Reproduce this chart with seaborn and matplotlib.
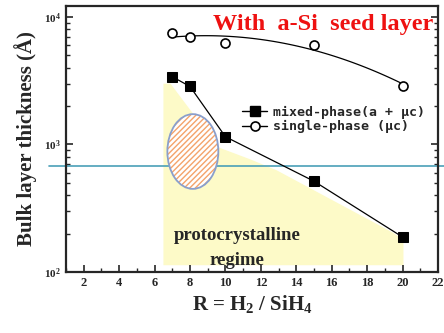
import numpy as np
import pandas as pd
import matplotlib
matplotlib.use("Agg")
import matplotlib.pyplot as plt
import seaborn as sns
from matplotlib.patches import Ellipse, Polygon
from matplotlib.lines import Line2D
from matplotlib.ticker import MultipleLocator, LogLocator, NullFormatter

# ---- data ----
ratio = [7, 8, 10, 15, 20]
mixed_phase = [3400, 2850, 1150, 515, 188]
single_phase = [7500, 6950, 6250, 6050, 2900]
threshold = 676
region_x = [6.5, 6.9, 9.6, 11.4, 12.9, 19.5, 20.05, 20.05, 6.5]
region_y = [3000, 3000, 950, 765, 627, 202, 178, 113, 113]
xticks = [2, 4, 6, 8, 10, 12, 14, 16, 18, 20, 22]
yticks = [100, 1000, 10000]
ytick_labels = ["10$^2$", "10$^3$", "10$^4$"]

sns.set_style("ticks")
plt.rcParams["font.family"] = ["Liberation Serif", "DejaVu Serif"]
plt.rcParams["font.weight"] = "bold"
plt.rcParams["mathtext.default"] = "regular"

fig = plt.figure(figsize=(4.44, 3.33), dpi=100)
ax = fig.add_axes([66/444, 1 - 272/333, (438-66)/444, (272-6)/333])
ax.set_yscale("log")
ax.set_xlim(1, 22)
ax.set_ylim(100, 10**4.086)

# yellow protocrystalline region
ax.add_patch(Polygon(list(zip(region_x, region_y)), closed=True,
                     facecolor="#fdfac8", edgecolor="none", zorder=0))

# threshold line
ax.axhline(threshold, xmin=-0.045, xmax=1.03, color="#4a9fb8", lw=1.2,
           clip_on=False, zorder=1)

# ellipse (hatched)
ell_kw = dict(xy=(0.341, 0.453), width=0.137, height=0.281, transform=ax.transAxes)
ax.add_patch(Ellipse(**ell_kw, facecolor="white", edgecolor="#f4a36a",
                     hatch="//////", lw=0, zorder=2))
ax.add_patch(Ellipse(**ell_kw, facecolor="none", edgecolor="#8a9fcc",
                     lw=1.3, zorder=3))

df = pd.DataFrame({"R": ratio, "mixed": mixed_phase, "single": single_phase})

# mixed-phase
sns.lineplot(data=df, x="R", y="mixed", ax=ax, color="black", lw=0.9,
             marker="s", markersize=6.5, markeredgecolor="black",
             markerfacecolor="black", zorder=4)
# single-phase: smooth curve through points + open circles
coef = np.polyfit(df["R"], np.log10(df["single"]), 2)
xs = np.linspace(min(ratio), max(ratio), 100)
ax.plot(xs, 10**np.polyval(coef, xs), color="black", lw=0.9, zorder=4)
sns.lineplot(data=df, x="R", y="single", ax=ax, color="black", lw=0,
             marker="o", markersize=6.5, markeredgecolor="black",
             markerfacecolor="white", markeredgewidth=1.2, zorder=5)

ax.set_xticks(xticks)
ax.xaxis.set_minor_locator(MultipleLocator(1))
ax.set_yticks(yticks)
ax.set_yticklabels(ytick_labels)
ax.yaxis.set_minor_locator(LogLocator(base=10, subs=np.arange(2, 10)))
ax.yaxis.set_minor_formatter(NullFormatter())
ax.tick_params(axis="both", which="major", direction="in", length=5, width=1.2,
               labelsize=9)
ax.tick_params(axis="both", which="minor", direction="in", length=3, width=1.0)
ax.tick_params(axis="y", which="both", right=True)
ax.tick_params(axis="y", which="major", labelsize=8)
for s in ax.spines.values():
    s.set_linewidth(1.6)
    s.set_visible(True)
for lab in ax.get_xticklabels() + ax.get_yticklabels():
    lab.set_fontweight("bold")

ax.set_xlabel("R = H$_2$ / SiH$_4$", fontsize=15, fontweight="bold", labelpad=3)
ax.set_ylabel("Bulk layer thickness (Å)", fontsize=15, fontweight="bold", labelpad=5)

ax.text(0.988, 0.93, "With  a-Si  seed layer", transform=ax.transAxes,
        ha="right", va="center", color="#ee1111", fontsize=17.5, fontweight="bold")
ax.text(0.46, 0.138, "protocrystalline", transform=ax.transAxes, ha="center",
        va="center", fontsize=13.5, fontweight="bold")
ax.text(0.46, 0.045, "regime", transform=ax.transAxes, ha="center",
        va="center", fontsize=13.5, fontweight="bold")

handles = [
    Line2D([], [], color="black", lw=1, marker="s", markersize=6.5,
           markerfacecolor="black"),
    Line2D([], [], color="black", lw=1, marker="o", markersize=6.5,
           markerfacecolor="white", markeredgewidth=1.2),
]
ax.legend(handles, ["mixed-phase(a + μc)", "single-phase (μc)"],
          loc="upper left", bbox_to_anchor=(0.46, 0.645), frameon=False,
          handlelength=1.9, handletextpad=0.4, labelspacing=0.1,
          borderaxespad=0, prop={"family": "DejaVu Sans Mono", "weight": "bold",
                                 "size": 9.5})

fig.savefig("out.png", dpi=100)
